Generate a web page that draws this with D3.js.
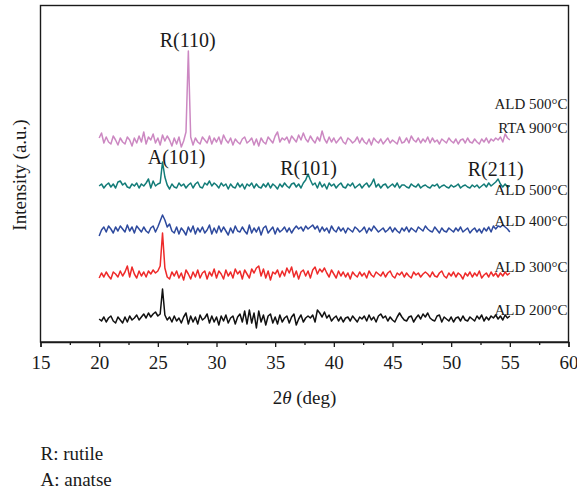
<!DOCTYPE html>
<html>
<head>
<meta charset="utf-8">
<script src="https://cdn.jsdelivr.net/npm/d3@7"></script>
<style>
  body { margin: 0; background: #fff; }
  text { font-family: "Liberation Serif", "Times New Roman", serif; fill: #1a1a1a; }
</style>
</head>
<body>
<svg id="chart" width="577" height="493"></svg>
<script>
// Scan grid: 2θ from 20° to 55° in 0.2° steps
const angleStart = 20;
const angleStep = 0.2;

// Sample names (bottom to top)
const sampleLabels = ["ALD 200°C", "ALD 300°C", "ALD 400°C", "ALD 500°C", "ALD 500°C|RTA 900°C"];
const sampleColors = ["#111111", "#ee2a2a", "#2e4a9e", "#137c78", "#cc88c2"];
// Vertical stacking offset of each pattern (a.u.)
const stackOffsets = [23, 67, 112, 156, 201];

// Intensities relative to each pattern's background (a.u.)
const ald200 = [
  0, -2, 2, -3, 1, 3, -2, -4, 2, -1,
  -4, 2, -3, 3, -1, 1, 4, -1, 2, 5,
  1, 6, 2, 5, 7, 3, 5, 30, 4, -1,
  2, -3, 3, -2, 1, -4, 2, 6, -5, 3,
  -3, 2, -5, 4, -1, 1, 5, -4, 3, -3,
  2, -6, 3, -2, 4, -4, 1, 3, -5, 2,
  5, -3, 8, -5, 9, -4, 6, -9, 8, -3,
  4, -6, 3, 5, -4, 2, -5, 4, -3, 1,
  3, -4, 2, 5, -6, 0, 4, -3, 1, 3,
  1, 4, -3, 9, 6, 2, 7, 1, 4, -2,
  1, 3, -2, 2, -3, 1, 2, -2, 3, 0,
  -3, 2, 0, 3, -2, 4, -1, 2, -3, 3,
  5, 1, 3, -2, 2, -1, -3, 2, 6, 2,
  -1, -2, 2, 3, -3, 1, 4, 0, 5, 2,
  6, 1, -1, -2, 3, 4, -3, 2, 0, -2,
  2, -3, 1, 2, -2, 3, -1, -2, 2, 0,
  -2, 3, 0, 4, -2, 2, -1, 3, 1, 4,
  0, 3, -1, 4, 1, 3
];
const ald300 = [
  -3, 2, -2, 3, -1, -4, 3, 1, -2, 4,
  -1, 3, 9, -2, 8, 1, -3, 4, -1, 3,
  -2, 4, 1, 5, 2, 4, 9, 42, 7, -2,
  -4, 3, -1, 4, -3, 2, -5, 5, 1, -4,
  3, -2, 5, -3, 2, 4, -4, 3, -1, 6,
  -3, 4, 1, -4, 5, -1, 3, -3, 6, 1,
  4, -4, 5, 1, -3, 6, 2, 7, 9, -1,
  6, -3, 4, -5, 3, 1, 5, -2, 4, -1,
  7, 2, 8, -2, 4, -4, 3, 5, -1, 4,
  -3, 5, 8, 1, 6, 3, 7, 2, -2, 5,
  1, -3, 4, -1, 3, -2, 2, -4, 3, 0,
  -2, 3, -1, 2, -3, 4, 0, -2, 3, 1,
  -1, 3, -2, 2, 4, -1, -3, 2, 0, 3,
  -2, 2, -1, -3, 3, 0, 2, -2, 1, 3,
  1, -2, 3, -1, -2, 2, 4, -1, -3, 2,
  -1, 3, -2, 2, 0, -4, 2, -1, 3, -2,
  2, -1, 4, -3, 0, 2, -2, 3, -1, 2,
  -2, 2, -1, 3, 0, 2
];
const ald400 = [
  -6, 0, 3, -2, 4, 1, -3, 3, -1, 4,
  1, -2, 5, -1, 3, -3, 4, 1, -2, 3,
  -1, -3, 2, 4, -2, 3, 9, 15, 10, 3,
  6, -1, -3, 3, -4, 2, -1, -5, 3, -2,
  4, -4, 2, -2, 3, -3, 0, 5, -4, 2,
  -3, 4, -2, 3, -1, -5, 2, -3, 4, -1,
  -2, 3, -1, -4, 5, -3, 2, -2, 3, -5,
  2, 4, -3, 0, 3, -4, 2, -2, 0, 3,
  -2, 2, -3, 1, 4, 1, 3, -1, 4, 1,
  3, 5, 1, 4, -2, 3, -1, 2, -3, 4,
  0, -2, 3, -1, 2, -3, 2, 0, -2, 3,
  1, -2, 0, 3, -3, 2, -1, 4, 1, -2,
  0, 2, -2, 0, 3, -2, 2, -1, -3, 2,
  -1, 3, -2, 2, 0, -2, 3, 1, -1, 4,
  1, -1, -2, 3, 0, -3, 2, -1, -2, 2,
  0, -2, 2, -1, 3, -2, 0, 2, -3, 0,
  2, -2, 1, -3, 2, -1, 3, -2, 4, 1,
  4, 3, 5, 3, 1, -2
];
const ald500 = [
  0, 2, -2, 1, 3, -1, 2, -2, 4, 5,
  1, 3, -1, -2, 2, 0, 3, -2, 2, 0,
  3, 7, -2, 5, 0, 2, 3, 24, 9, 1,
  -3, 2, -1, -2, 3, 0, 2, -2, 1, 3,
  -2, 2, 4, -1, -2, 3, 1, 5, 0, 3,
  1, -2, 3, 0, 2, -3, 2, -1, -2, 3,
  -1, 2, -3, 2, 0, 3, -2, 2, -1, -2,
  2, -1, 3, -2, 2, 0, -3, 2, -1, 3,
  0, -2, 2, 3, -1, 2, -2, 3, 6, 12,
  6, 1, 3, -2, 4, -1, 2, -3, 3, 0,
  2, -2, 1, 3, -1, -2, 2, 0, 3, -2,
  0, 2, -2, 1, 3, -1, 2, 7, -1, 2,
  -2, 1, 2, -2, 0, 2, -1, 3, -2, 1,
  1, -1, -2, 2, 0, -1, 2, -2, 0, 1,
  -1, -2, 1, 0, 2, -2, 0, 1, -1, -2,
  1, -1, 0, 2, -2, 0, 1, -1, -2, 1,
  -1, 1, -2, 0, 2, -1, 3, 0, 2, 4,
  7, 2, -1, 2, -1, 0
];
const rta900 = [
  3, 8, -2, 4, -1, -3, 5, 1, -4, 3,
  -1, -3, 4, 1, -5, 3, -2, 5, -1, 9,
  -3, 4, 1, 7, -2, 3, -4, 6, 0, 5,
  1, -5, 3, -3, 4, -6, 0, 9, 90, 4,
  -4, 3, -1, -3, 4, 1, -2, 5, -3, 3,
  -1, 4, -3, 6, 1, -2, 3, -4, 2, -1,
  -3, 2, 4, -2, 0, 3, -4, 2, -5, 3,
  -1, -3, 4, 1, -2, 5, 9, -1, 3, 1,
  4, -2, 5, 2, -1, 6, 1, 8, 2, -1,
  5, 1, -2, 4, 0, 10, 2, -2, 4, -1,
  3, -2, 1, 4, -1, -3, 3, 1, -2, 0,
  4, -2, 3, -1, -3, 2, -4, 3, 0, -2,
  2, -3, 0, 3, -2, 1, -1, -3, 4, -2,
  -1, 3, -2, 5, 1, -1, 3, -2, 2, -1,
  4, -2, 3, -1, 1, -3, 2, 0, -2, 3,
  0, -2, 2, -3, 1, 2, -2, 3, -1, -2,
  2, -1, -3, 2, -1, 3, -2, 2, 0, 3,
  1, 4, -1, 7, 3, 1
];
const patterns = [ald200, ald300, ald400, ald500, rta900];

// Reflection labels
const peakNames = ["R(110)", "A(101)", "R(101)", "R(211)"];
const peakLabelAngles = [27.55, 26.6, 37.85, 53.8];
const peakLabelLevels = [302, 185, 174, 173];

// Axis ticks
const majorTicks = [15, 20, 25, 30, 35, 40, 45, 50, 55, 60];
const minorTicks = [17.5, 22.5, 27.5, 32.5, 37.5, 42.5, 47.5, 52.5, 57.5];
const legendNotes = ["R: rutile", "A: anatse"];

const svg = d3.select("#chart");
const margin = { left: 40.5, right: 8.5, top: 5.5, bottom: 151 };
const W = 577, H = 493;
const plotW = W - margin.left - margin.right;
const plotH = H - margin.top - margin.bottom;

const x = d3.scaleLinear().domain([15, 60]).range([margin.left, margin.left + plotW]);
const y = d3.scaleLinear().domain([0, plotH]).range([margin.top + plotH, margin.top]);

// Patterns
const line = d3.line()
  .x((d, i) => x(angleStart + i * angleStep))
  .y(d => d.y)
  .curve(d3.curveLinear);

patterns.forEach((vals, k) => {
  const pts = vals.map(v => ({ y: y(stackOffsets[k] + v) }));
  svg.append("path")
    .attr("d", line(pts))
    .attr("fill", "none")
    .attr("stroke", sampleColors[k])
    .attr("stroke-width", 1.5)
    .attr("stroke-linejoin", "round");
});

// Frame
svg.append("rect")
  .attr("x", margin.left).attr("y", margin.top)
  .attr("width", plotW).attr("height", plotH)
  .attr("fill", "none").attr("stroke", "#1a1a1a").attr("stroke-width", 1.4);

// X axis
const xAxis = d3.axisBottom(x).tickValues(majorTicks).tickSize(5).tickPadding(9).tickFormat(d3.format("d"));
const gx = svg.append("g").attr("transform", `translate(0,${margin.top + plotH})`).call(xAxis);
gx.select(".domain").attr("stroke", "#1a1a1a").attr("stroke-width", 1.4);
gx.selectAll(".tick line").attr("stroke", "#1a1a1a").attr("stroke-width", 1.3);
gx.selectAll(".tick text").attr("font-size", 19).attr("font-family", "Liberation Serif, serif").attr("fill", "#1a1a1a");
const gxm = svg.append("g").attr("transform", `translate(0,${margin.top + plotH})`)
  .call(d3.axisBottom(x).tickValues(minorTicks).tickSize(3).tickFormat(""));
gxm.select(".domain").remove();
gxm.selectAll(".tick line").attr("stroke", "#1a1a1a").attr("stroke-width", 1.3);

// Axis titles
const xt = svg.append("text").attr("x", x(37.5)).attr("y", 397).attr("dy", "0.35em")
  .attr("text-anchor", "middle").attr("font-size", 19);
xt.append("tspan").text("2");
xt.append("tspan").attr("font-style", "italic").text("θ");
xt.append("tspan").text(" (deg)");

svg.append("text")
  .attr("transform", `translate(19,175) rotate(-90)`)
  .attr("text-anchor", "middle").attr("dy", "0.35em")
  .attr("font-size", 19).text("Intensity (a.u.)");

// Sample labels at right
const sampleLabelLevels = [32, 75, 121, 152, [238, 214]];
sampleLabels.forEach((lab, k) => {
  const parts = lab.split("|");
  const lv = sampleLabelLevels[k];
  const levels = Array.isArray(lv) ? lv : [lv];
  parts.forEach((p, j) => {
    svg.append("text")
      .attr("x", margin.left + plotW - 1).attr("y", y(levels[j])).attr("dy", "0.35em")
      .attr("text-anchor", "end").attr("font-size", 15).text(p);
  });
});

// Reflection labels
peakNames.forEach((n, i) => {
  svg.append("text")
    .attr("x", x(peakLabelAngles[i])).attr("y", y(peakLabelLevels[i])).attr("dy", "0.35em")
    .attr("text-anchor", "middle").attr("font-size", 20).text(n);
});

// Phase key
legendNotes.forEach((t, i) => {
  svg.append("text").attr("x", margin.left).attr("y", 453 + i * 26).attr("dy", "0.35em")
    .attr("font-size", 19).text(t);
});
</script>
</body>
</html>
